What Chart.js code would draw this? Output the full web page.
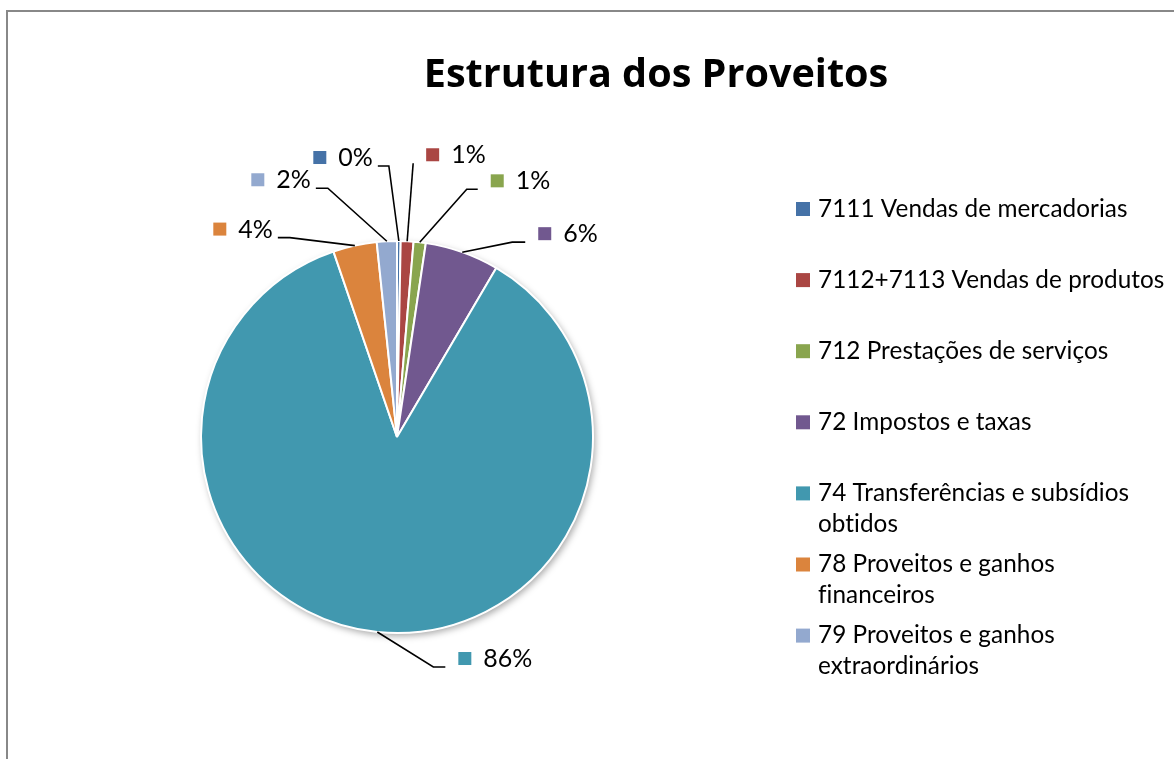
<!DOCTYPE html>
<html><head><meta charset="utf-8">
<script src="https://cdn.jsdelivr.net/npm/chart.js@4.4.1/dist/chart.umd.min.js"></script>
<style>html,body{margin:0;padding:0;background:#fff;overflow:hidden}#wrap{position:relative;width:1174px;height:759px}</style>
</head><body><div id="wrap"><canvas id="c" width="1174" height="759"></canvas></div>
<script>
const chartTitle = 'Estrutura dos Proveitos';
const categories = [
  ['7111 Vendas de mercadorias'],
  ['7112+7113 Vendas de produtos'],
  ['712 Prestações de serviços'],
  ['72 Impostos e taxas'],
  ['74 Transferências e subsídios', 'obtidos'],
  ['78 Proveitos e ganhos', 'financeiros'],
  ['79 Proveitos e ganhos', 'extraordinários']
];
const shares = [0.3, 1.05, 1.0, 6.1, 86.3, 3.6, 1.65];
const colors = ['#4572A7', '#AA4643', '#89A54E', '#71588F', '#4198AF', '#DB843D', '#93A9CF'];
// leader-line shape per slice: [elbow dx, elbow dy, horizontal run] from the slice's outer mid-point
const leaders = [[-10, -75, -11], [6, -78, 0], [47, -53, 11], [50, -10, 13], [56, 35, 12], [-65, -8, -12], [-59, -53, -12]];

const FONT = 'Lato, "Open Sans", "DejaVu Sans", sans-serif';
const total = shares.reduce((a, b) => a + b, 0);
const pctLabels = shares.map(v => Math.round(v / total * 100) + '%');

const framePlugin = {
  id: 'frame',
  beforeDraw(chart) {
    const ctx = chart.ctx;
    ctx.save();
    ctx.fillStyle = '#fff';
    ctx.fillRect(0, 0, chart.width, chart.height);
    ctx.strokeStyle = '#888';
    ctx.lineWidth = 2;
    ctx.beginPath();
    ctx.moveTo(7, chart.height + 5);
    ctx.lineTo(7, 11);
    ctx.lineTo(chart.width + 5, 11);
    ctx.stroke();
    ctx.fillStyle = '#000';
    ctx.font = 'bold 39.6px "Open Sans", Lato, sans-serif';
    ctx.textAlign = 'center';
    ctx.textBaseline = 'middle';
    ctx.fillText(chartTitle, 656, 76);
    ctx.restore();
  },
  beforeDatasetsDraw(chart) {
    const arc = chart.getDatasetMeta(0).data[0];
    if (!arc) return;
    const ctx = chart.ctx;
    ctx.save();
    ctx.shadowColor = 'rgba(0,0,0,0.35)';
    ctx.shadowBlur = 7;
    ctx.shadowOffsetX = 2;
    ctx.shadowOffsetY = 3;
    ctx.fillStyle = '#fff';
    ctx.beginPath();
    ctx.arc(arc.x, arc.y, arc.outerRadius, 0, Math.PI * 2);
    ctx.fill();
    ctx.restore();
  },
  afterDatasetsDraw(chart) {
    const ctx = chart.ctx;
    const meta = chart.getDatasetMeta(0);
    ctx.save();
    ctx.font = '25px ' + FONT;
    ctx.textBaseline = 'middle';
    meta.data.forEach((arc, i) => {
      const mid = (arc.startAngle + arc.endAngle) / 2;
      const ax = arc.x + Math.cos(mid) * arc.outerRadius;
      const ay = arc.y + Math.sin(mid) * arc.outerRadius;
      const [dx, dy, run] = leaders[i];
      const bx = ax + dx, by = ay + dy;
      const ex = bx + run, ey = by;
      ctx.strokeStyle = '#000';
      ctx.lineWidth = 1.6;
      ctx.beginPath();
      ctx.moveTo(ax, ay);
      ctx.lineTo(bx, by);
      ctx.lineTo(ex, ey);
      ctx.stroke();
      const txt = pctLabels[i];
      const tw = ctx.measureText(txt).width;
      const cy = ey - 8;
      const right = run > 0 || (run === 0 && dx > 0);
      let sqx;
      if (right) sqx = ex + 13; else sqx = ex - 5 - tw - 25;
      ctx.fillStyle = colors[i];
      ctx.fillRect(sqx, cy - 7, 13, 13);
      ctx.fillStyle = '#000';
      ctx.textAlign = 'left';
      ctx.fillText(txt, sqx + 25, cy);
    });
    // legend
    const lx = 796, ty = 209, pitch = 71.1, lh = 31;
    ctx.font = '24.3px ' + FONT;
    if ('letterSpacing' in ctx) ctx.letterSpacing = '0.05px';
    categories.forEach((lines, i) => {
      const y = ty + i * pitch;
      ctx.fillStyle = colors[i];
      ctx.fillRect(lx, y - 7, 14, 14);
      ctx.fillStyle = '#000';
      lines.forEach((ln, j) => ctx.fillText(ln, lx + 22, y + j * lh));
    });
    ctx.restore();
  }
};

new Chart(document.getElementById('c'), {
  type: 'pie',
  data: {
    labels: categories.map(l => l.join(' ')),
    datasets: [{
      data: shares,
      backgroundColor: colors,
      borderColor: '#fff',
      borderWidth: 2
    }]
  },
  options: {
    responsive: false,
    devicePixelRatio: 1,
    animation: false,
    layout: { padding: { left: 200, right: 580, top: 240, bottom: 125 } },
    plugins: { legend: { display: false }, tooltip: { enabled: false }, title: { display: false } }
  },
  plugins: [framePlugin]
});
</script></body></html>
